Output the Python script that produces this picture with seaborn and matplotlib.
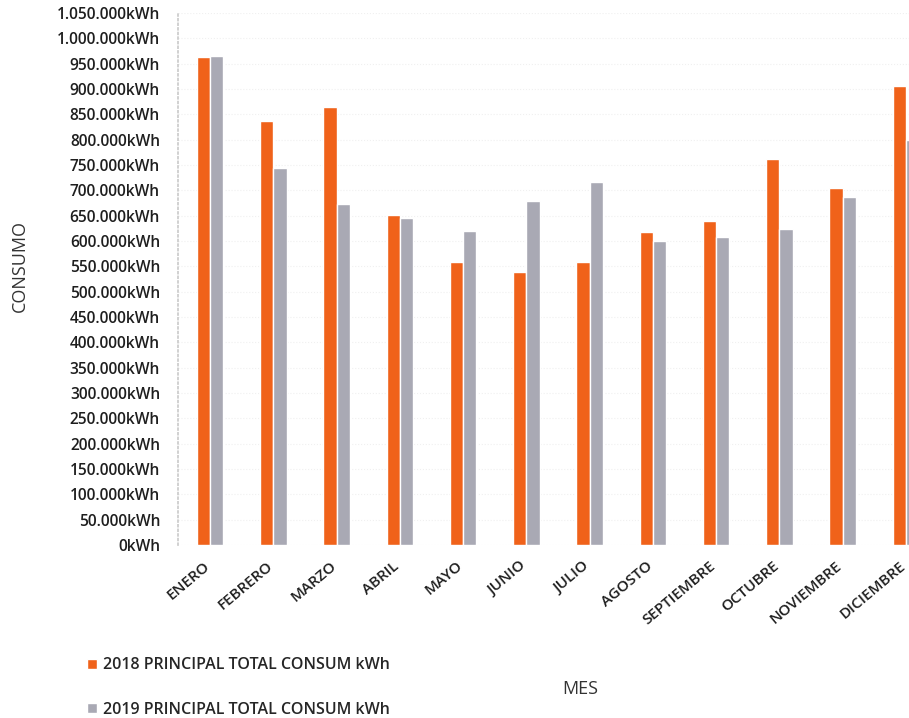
import pandas as pd
import seaborn as sns
import matplotlib.pyplot as plt
import matplotlib.transforms as mtransforms
from matplotlib.ticker import FuncFormatter, MultipleLocator

# Set the theme
sns.set_theme(style="whitegrid")
plt.rcParams['font.family'] = ['Open Sans', 'DejaVu Sans']

# Monthly consumption (kWh)
months = ['ENERO', 'FEBRERO', 'MARZO', 'ABRIL', 'MAYO', 'JUNIO', 'JULIO',
          'AGOSTO', 'SEPTIEMBRE', 'OCTUBRE', 'NOVIEMBRE', 'DICIEMBRE']
consumo_2018 = [963000, 837000, 864000, 651000, 559000, 539000, 559000,
                618000, 639000, 762000, 705000, 906000]
consumo_2019 = [965000, 744000, 673000, 645000, 620000, 679000, 716000,
                600000, 608000, 624000, 687000, 799000]
series_labels = ['2018 PRINCIPAL TOTAL CONSUM kWh', '2019 PRINCIPAL TOTAL CONSUM kWh']
colors = ['#F0621A', '#A9A9B4']

# Long format table for seaborn
data = pd.DataFrame({
    'MES': months * 2,
    'CONSUMO': consumo_2018 + consumo_2019,
    'SERIE': [series_labels[0]] * len(months) + [series_labels[1]] * len(months),
})

fig = plt.figure(figsize=(9.09, 7.18), dpi=100)
ax = fig.add_axes([0.196, 0.241, 0.804, 0.741])

sns.barplot(data=data, x='MES', y='CONSUMO', hue='SERIE', palette=colors,
            width=0.42, saturation=1, ax=ax, legend=True)

# Axes limits and ticks
ax.set_ylim(0, 1050000)
ax.set_xlim(-0.506, 11.05)
ax.yaxis.set_major_locator(MultipleLocator(50000))
ax.yaxis.set_major_formatter(FuncFormatter(lambda v, p: f"{int(v):,}".replace(",", ".") + "kWh"))
ax.tick_params(axis='y', labelsize=11.2, labelcolor='#1e1e1e', pad=13, length=0)
ax.tick_params(axis='x', labelsize=11, labelcolor='#1e1e1e', pad=10, length=0)
for lbl in ax.get_yticklabels():
    lbl.set_fontweight('semibold')
shift = mtransforms.ScaledTranslation(-5 / 72, 0, fig.dpi_scale_trans)
for lbl in ax.get_xticklabels():
    lbl.set_rotation(40)
    lbl.set_ha('right')
    lbl.set_rotation_mode('anchor')
    lbl.set_fontweight('semibold')
    lbl.set_transform(lbl.get_transform() + shift)

# Faint grid and frame
ax.grid(axis='y', color='#f0f0f0', linestyle=':', linewidth=0.8)
ax.grid(axis='x', visible=False)
for side in ['top', 'right', 'bottom']:
    ax.spines[side].set_visible(False)
ax.spines['left'].set_color('#cccccc')
ax.spines['left'].set_linestyle(':')

# Axis titles
ax.set_ylabel('')
ax.set_xlabel('')
fig.text(0.022, 0.63, 'CONSUMO', fontsize=13, color='#333333', rotation=90,
         ha='center', va='center')
fig.text(0.638, 0.04, 'MES', fontsize=13, color='#333333', ha='center', va='center')

# Legend at bottom left
handles, labels = ax.get_legend_handles_labels()
ax.legend_.remove()
fig.legend(handles, labels, loc='lower left', bbox_to_anchor=(0.08, -0.02),
           frameon=False, labelspacing=1.8, handlelength=0.6,
           handleheight=0.6, handletextpad=0.4, prop={'weight': 'semibold', 'size': 11.5})

plt.savefig('out.png', dpi=100)
